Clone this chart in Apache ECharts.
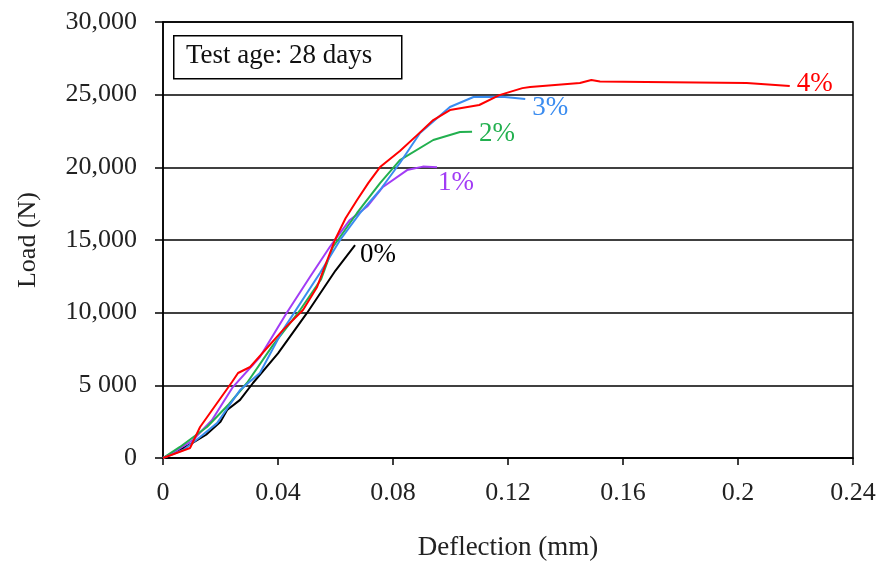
<!DOCTYPE html>
<html><head><meta charset="utf-8">
<script src="https://cdn.jsdelivr.net/npm/echarts@6/dist/echarts.min.js"></script>
<style>html,body{margin:0;padding:0;background:#fff}#c{width:883px;height:562px}</style>
</head><body><div id="c"></div>
<script>
const yTickLabels = {0:'0',5000:'5 000',10000:'10,000',15000:'15,000',20000:'20,000',25000:'25,000',30000:'30,000'};
const seriesNames = ['0%','1%','2%','3%','4%'];
const seriesColors = ['#000000','#a23cf5','#22b04f','#3a8cf0','#ff0000'];
const s0 = [[0,0],[0.005,450],[0.01,1000],[0.015,1600],[0.02,2500],[0.0223,3300],[0.0268,4000],[0.0313,5160],[0.04,7200],[0.0501,9980],[0.06,12900],[0.0668,14650]];
const s1 = [[0,0],[0.005,550],[0.0104,1240],[0.017,2600],[0.0243,4880],[0.0337,6950],[0.043,9980],[0.0511,12450],[0.058,14520],[0.0605,15200],[0.065,16380],[0.071,17300],[0.0765,18650],[0.0849,19810],[0.0904,20050],[0.0953,20000]];
const s2 = [[0,0],[0.0059,760],[0.0153,2130],[0.0229,3700],[0.0292,5160],[0.038,7700],[0.0477,10180],[0.055,12300],[0.0591,14520],[0.0675,16860],[0.0755,18920],[0.0824,20500],[0.094,21880],[0.1033,22430],[0.1075,22450]];
const s3 = [[0,0],[0.007,550],[0.0129,1450],[0.0188,2400],[0.0268,4680],[0.0337,5850],[0.0417,8800],[0.0546,12730],[0.0616,15000],[0.0685,16850],[0.0755,18440],[0.0824,20300],[0.0894,22360],[0.0998,24150],[0.108,24840],[0.118,24850],[0.126,24700]];
const s4 = [[0,0],[0.0094,690],[0.0129,2130],[0.024,5230],[0.0261,5850],[0.0303,6260],[0.0417,8800],[0.0487,10180],[0.0536,11770],[0.0598,15000],[0.0635,16500],[0.0675,17750],[0.0715,18950],[0.0755,20020],[0.0824,21120],[0.0883,22200],[0.094,23250],[0.0998,23940],[0.110,24290],[0.117,24970],[0.125,25450],[0.1277,25520],[0.145,25800],[0.149,26010],[0.152,25900],[0.168,25870],[0.203,25800],[0.218,25590]];
const allData = [s0,s1,s2,s3,s4];
const labelOffsets = [[0,10],[-4,16],[2,2],[2,9],[2,-2]];

const chart = echarts.init(document.getElementById('c'));
const font = '"Liberation Serif", "Times New Roman", serif';
chart.setOption({
  animation:false,
  backgroundColor:'#fff',
  grid:{left:163,right:30,top:22,bottom:104,show:true,borderColor:'#000',borderWidth:1.5,containLabel:false,outerBoundsMode:'none'},
  xAxis:{type:'value',min:0,max:0.24,interval:0.04,
    name:'Deflection (mm)',nameLocation:'middle',nameGap:76,
    nameTextStyle:{fontFamily:font,fontSize:27,color:'#222'},
    axisLine:{lineStyle:{color:'#000',width:1.5}},
    axisTick:{show:true,length:7,lineStyle:{color:'#000',width:1.5}},
    axisLabel:{fontFamily:font,fontSize:26,color:'#222',margin:22,formatter:v=>String(+v.toFixed(2))},
    splitLine:{show:false}},
  yAxis:{type:'value',min:0,max:30000,interval:5000,
    name:'Load (N)',nameLocation:'middle',nameGap:122,
    nameTextStyle:{fontFamily:font,fontSize:26,color:'#222'},
    axisLine:{show:true,lineStyle:{color:'#000',width:1.5}},
    axisTick:{show:true,inside:false,length:8,lineStyle:{color:'#000',width:1.5}},
    axisLabel:{fontFamily:font,fontSize:26,color:'#222',margin:26,formatter:v=>yTickLabels[v]},
    splitLine:{show:true,lineStyle:{color:'#000',width:1.5}}},
  graphic:[
    {type:'rect',left:173,top:35,shape:{width:228,height:43},style:{fill:'#fff',stroke:'#000',lineWidth:1.5},z:100},
    {type:'text',left:186,top:42,style:{text:'Test age: 28 days',font:'27px '+font,fill:'#111'},z:101}
  ],
  series: allData.map((d,i)=>({
    type:'line',name:seriesNames[i],data:d,showSymbol:false,symbol:'none',
    lineStyle:{color:seriesColors[i],width:2},itemStyle:{color:seriesColors[i]},
    z: i===4?5:(i+1),
    endLabel:{show:true,formatter:seriesNames[i],color:seriesColors[i],fontFamily:font,fontSize:27,offset:labelOffsets[i],distance:5}
  }))
});
</script></body></html>
